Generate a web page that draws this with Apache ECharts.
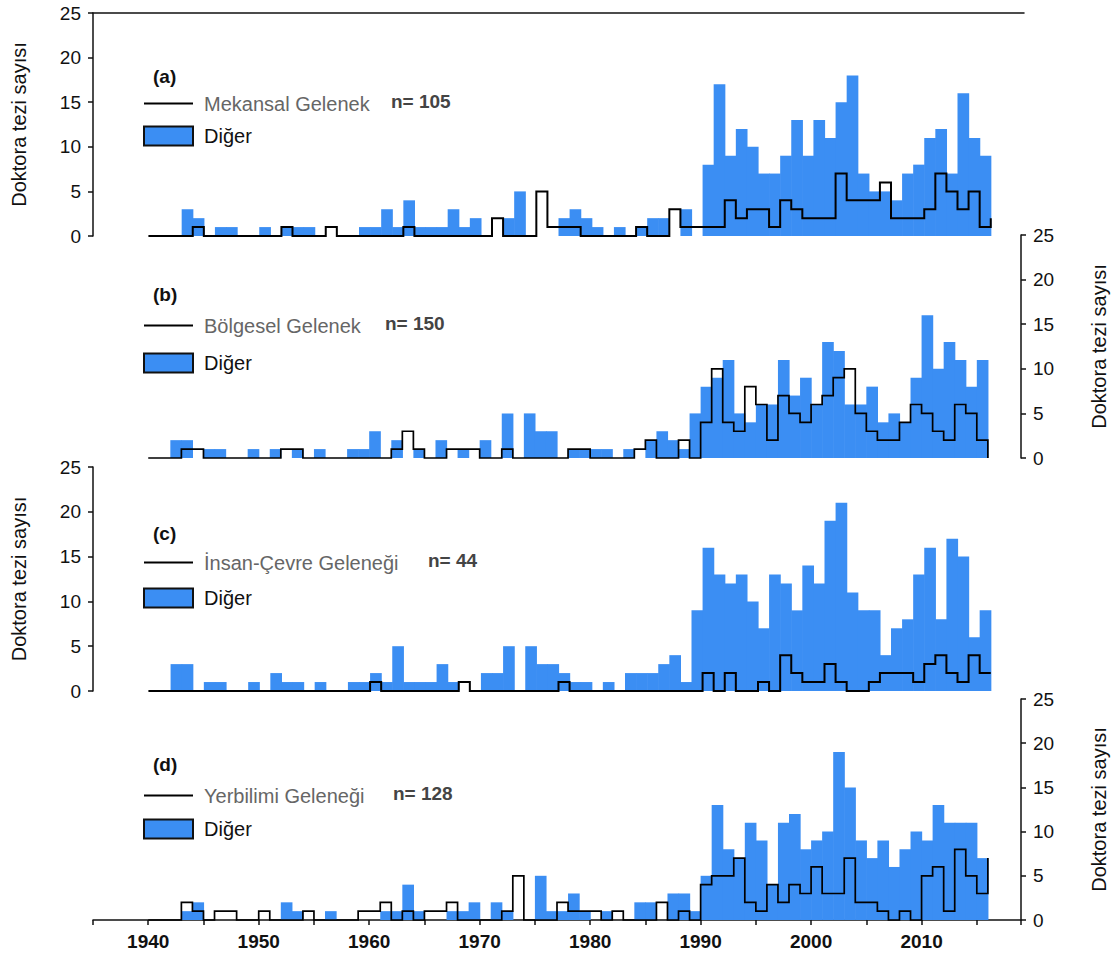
<!DOCTYPE html>
<html><head><meta charset="utf-8">
<script src="https://cdn.jsdelivr.net/npm/echarts@6/dist/echarts.min.js"></script>
<style>html,body{margin:0;padding:0;background:#fff}#c{width:1117px;height:965px}</style>
</head><body><div id="c"></div>
<script>
// ---- data ----
const years = [1940,1941,1942,1943,1944,1945,1946,1947,1948,1949,
 1950,1951,1952,1953,1954,1955,1956,1957,1958,1959,
 1960,1961,1962,1963,1964,1965,1966,1967,1968,1969,
 1970,1971,1972,1973,1974,1975,1976,1977,1978,1979,
 1980,1981,1982,1983,1984,1985,1986,1987,1988,1989,
 1990,1991,1992,1993,1994,1995,1996,1997,1998,1999,
 2000,2001,2002,2003,2004,2005,2006,2007,2008,2009,
 2010,2011,2012,2013,2014,2015,2016];
const xTickLabels = [1940,1950,1960,1970,1980,1990,2000,2010];
const yTicks = [0,5,10,15,20,25];

// (a) Mekansal Gelenek
const digerA = [0,0,0,3,2,0,1,1,0,0, 1,0,1,1,1,0,0,0,0,1, 1,3,1,4,1,1,1,3,1,2, 0,0,2,5,0,0,0,2,3,2,
 1,0,1,0,1,2,2,0,3,0, 8,17,9,12,10,7,7,9,13,9, 13,11,15,18,7,5,5,4,7,8, 11,12,7,16,11,9];
const lineA = [0,0,0,0,1,0,0,0,0,0, 0,0,1,0,0,0,1,0,0,0, 0,0,0,1,0,0,0,0,0,0, 0,2,0,0,0,5,1,1,1,0,
 0,0,0,0,1,0,0,3,1,1, 1,1,4,2,3,3,1,4,3,2, 2,2,7,4,4,4,6,2,2,2, 3,7,5,3,5,1,2];
// (b) Bölgesel Gelenek
const digerB = [0,0,2,2,0,1,1,0,0,1, 0,1,0,1,0,1,0,0,1,1, 3,0,2,0,1,0,2,0,1,0, 2,0,5,0,5,3,3,0,1,1,
 1,1,0,1,0,2,3,2,1,5, 8,9,11,5,4,6,6,11,7,9, 6,13,12,6,6,8,4,5,4,9, 16,10,13,11,8,11];
const lineB = [0,0,0,1,1,0,0,0,0,0, 0,0,1,1,0,0,0,0,0,0, 0,0,1,3,1,0,0,1,1,1, 0,0,1,0,0,0,0,0,1,1,
 0,0,0,0,1,2,0,0,2,0, 4,10,4,3,8,6,2,7,5,4, 6,7,9,10,5,3,2,2,4,6, 5,3,2,6,5,2,0];
// (c) İnsan-Çevre Geleneği
const digerC = [0,0,3,3,0,1,1,0,0,1, 0,2,1,1,0,1,0,0,1,1, 2,1,5,1,1,1,3,1,0,0, 2,2,5,0,5,3,3,2,1,1,
 0,1,0,2,2,2,3,4,1,9, 16,13,12,13,10,7,13,12,9,14, 12,19,21,11,9,9,4,7,8,13, 16,8,17,15,6,9];
const lineC = [0,0,0,0,0,0,0,0,0,0, 0,0,0,0,0,0,0,0,0,0, 1,0,0,0,0,0,0,0,1,0, 0,0,0,0,0,0,0,1,0,0,
 0,0,0,0,0,0,0,0,0,0, 2,0,2,0,0,1,0,4,2,1, 1,3,1,0,0,1,2,2,2,1, 3,4,2,1,4,2,2];
// (d) Yerbilimi Geleneği
const digerD = [0,0,0,1,2,0,0,0,0,0, 0,0,2,1,0,0,1,0,0,0, 0,1,1,4,1,0,0,1,1,2, 0,2,1,0,0,5,1,1,3,1,
 0,1,0,0,2,2,0,3,3,1, 5,13,8,7,11,9,4,11,12,8, 9,10,19,15,9,7,9,6,8,10, 9,13,11,11,11,7];
const lineD = [0,0,0,2,1,0,1,1,0,0, 1,0,0,0,1,0,0,0,0,1, 1,2,0,1,0,1,1,2,0,0, 0,0,1,5,0,0,0,2,1,1,
 1,0,1,0,0,0,2,0,1,0, 4,5,5,7,2,1,4,2,4,3, 6,3,3,7,2,2,1,0,1,0, 5,6,1,8,5,3,7];

const seriesNames = ['Mekansal Gelenek','Bölgesel Gelenek','İnsan-Çevre Geleneği','Yerbilimi Geleneği'];
const nLabels = ['n= 105','n= 150','n= 44','n= 128'];
const panelTags = ['(a)','(b)','(c)','(d)'];
const otherName = 'Diğer';
const yTitle = 'Doktora tezi sayısı';

// ---- layout / style ----
const FONT = '"Liberation Sans", Arial, Helvetica, sans-serif';
const BLUE = '#3b8ef3';
const layout = [
  {diger:digerA, line:lineA, side:'left',  top:13,  h:223, tagY:78,  legY:103, boxY:134, nX:391, lw:2},
  {diger:digerB, line:lineB, side:'right', top:235, h:223, tagY:296, legY:325, boxY:361, nX:385, lw:1.7},
  {diger:digerC, line:lineC, side:'left',  top:467, h:224, tagY:535, legY:562, boxY:596, nX:428, lw:2},
  {diger:digerD, line:lineD, side:'right', top:699, h:221, tagY:766, legY:795, boxY:827, nX:393, lw:1.7}
];

const grid = [], xAxis = [], yAxis = [], series = [], legend = [], graphic = [];
layout.forEach((p, i) => {
  grid.push({left:93, right:93, top:p.top, height:p.h, containLabel:false});
  xAxis.push({
    gridIndex:i, type:'value', min:1935, max:2019, interval:5, show: i === 3, position:'bottom',
    axisLine:{show:true, onZero:false, lineStyle:{color:'#111', width:1.5}},
    axisTick:{show:true, length:5, lineStyle:{color:'#111', width:1.5}},
    axisLabel:{formatter: v => xTickLabels.indexOf(v) >= 0 ? String(v) : '', fontFamily:FONT,
      fontWeight:'bold', fontSize:19, color:'#111', margin:12},
    splitLine:{show:false}
  });
  yAxis.push({
    gridIndex:i, type:'value', min:yTicks[0], max:yTicks[yTicks.length-1], interval:5, position:p.side,
    axisLine:{show:true, onZero:false, lineStyle:{color:'#111', width:1.5}},
    axisTick:{show:true, length:5, lineStyle:{color:'#111', width:1.5}},
    axisLabel:{fontFamily:FONT, fontSize:19, color:'#111', margin:12},
    splitLine:{show:false},
    name:yTitle, nameLocation:'middle', nameRotate:90, nameGap: p.side === 'left' ? 64 : 68,
    nameTextStyle:{fontFamily:FONT, fontSize:20, color:'#111'}
  });
  series.push({
    name:otherName, type:'custom', xAxisIndex:i, yAxisIndex:i, z:2, silent:true,
    itemStyle:{color:BLUE},
    encode:{x:0, y:1},
    data: p.diger.map((v, k) => [years[k], v]),
    renderItem: function (params, api) {
      const x0 = api.value(0), v = api.value(1);
      if (!v) return null;
      const a = api.coord([x0, v]);
      const b = api.coord([x0 + 1, 0]);
      return {type:'rect', shape:{x:a[0], y:a[1], width:b[0]-a[0]+0.6, height:b[1]-a[1]},
        style:{fill:BLUE}};
    }
  });
  series.push({
    name:seriesNames[i], type:'line', step:'end', xAxisIndex:i, yAxisIndex:i, z:3, silent:true,
    symbol:'none', clip:false,
    lineStyle:{color:'#000', width:p.lw, join:'miter', cap:'butt'},
    itemStyle:{color:'#000'},
    data: p.line.map((v, k) => [years[k], v])
  });
  legend.push({
    left:143, top:p.legY - 9.5, orient:'vertical', itemWidth:49, itemHeight:19,
    itemGap: p.boxY - p.legY - 19, selectedMode:false, padding:0, symbolKeepAspect:true,
    textStyle:{fontFamily:FONT, fontSize:20, lineHeight:19, padding:[0,0,0,6]},
    data:[
      {name:seriesNames[i], icon:'path://M0 0H49V2H0Z', itemStyle:{color:'#000', borderWidth:0},
        textStyle:{color:'#666'}},
      {name:otherName, icon:'rect', itemStyle:{color:BLUE, borderColor:'#111', borderWidth:2}, textStyle:{color:'#111'}}
    ]
  });
  graphic.push({type:'text', left:153, top:p.tagY - 11, silent:true,
    style:{text:panelTags[i], font:'bold 19px ' + FONT, fill:'#111'}});
  graphic.push({type:'text', left:p.nX, top:p.legY - 11, silent:true,
    style:{text:nLabels[i], font:'bold 19px ' + FONT, fill:'#444'}});
});
// top frame line of panel (a)
xAxis.push({gridIndex:0, type:'value', min:1935, max:2019, position:'top',
  axisLine:{show:true, onZero:false, lineStyle:{color:'#111', width:1.5}},
  axisTick:{show:false}, axisLabel:{show:false}, splitLine:{show:false}});

const chart = echarts.init(document.getElementById('c'), null, {renderer:'svg'});
chart.setOption({
  backgroundColor:'#fff', animation:false,
  grid, xAxis, yAxis, series, legend, graphic
});
</script></body></html>
